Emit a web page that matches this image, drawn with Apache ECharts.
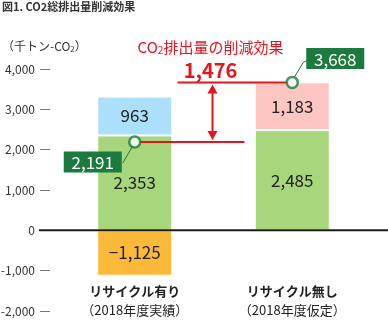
<!DOCTYPE html>
<html><head><meta charset="utf-8">
<script src="https://cdn.jsdelivr.net/npm/echarts@6/dist/echarts.min.js"></script>
<style>html,body{margin:0;padding:0;background:#fff}#c{width:388px;height:320px}</style>
</head><body><div id="c"></div>
<script>
const categories = ['リサイクル有り', 'リサイクル無し'];
const subCategories = ['（2018年度実績）', '（2018年度仮定）'];
const baseValues = [2353, 2485];
const recycleAdd = [963, null];
const noRecycleAdd = [null, 1183];
const recycleNeg = [-1125, null];
const totals = [2191, 3668];
const totalLabels = ['2,191', '3,668'];
const reductionLabel = '1,476';
const yMin = -2000, yMax = 4000, yStep = 1000;

const FONT = '"Noto Sans CJK JP", "Noto Sans", sans-serif';
const RED = '#e8141c';
const DKGREEN = '#1b7a3e';

function fmt(v) {
  const s = Math.abs(v).toLocaleString('en-US');
  return v < 0 ? '−' + s : s;
}

const chart = echarts.init(document.getElementById('c'), null, {renderer: 'canvas'});
const barLabel = {show: true, position: 'inside', color: '#222', fontSize: 17, fontFamily: FONT,
  formatter: p => fmt(p.value)};
const barItem = c => ({color: c, borderColor: '#fff', borderWidth: 1});

chart.setOption({
  animation: false,
  grid: {left: 56, right: 17, top: 69, bottom: 9, containLabel: false, outerBoundsMode: 'none'},
  xAxis: {
    type: 'category', data: categories, position: 'bottom',
    axisLine: {show: false, onZero: false}, axisTick: {show: false},
    axisLabel: {
      margin: -29, interval: 0,
      formatter: (v, i) => '{a|' + v + '}\n{b|' + subCategories[i] + '}',
      rich: {
        a: {fontSize: 13, fontWeight: 'bold', color: '#222', fontFamily: FONT, lineHeight: 19},
        b: {fontSize: 13, color: '#222', fontFamily: FONT, lineHeight: 19}
      }
    }
  },
  yAxis: {
    type: 'value', min: yMin, max: yMax, interval: yStep, offset: 6,
    splitLine: {show: false},
    axisLine: {show: false},
    axisTick: {show: true, length: 10, lineStyle: {color: '#777', width: 1}},
    axisLabel: {margin: 15, color: '#333', fontSize: 12, fontFamily: FONT,
      formatter: v => v.toLocaleString('en-US')}
  },
  series: [
    {type: 'bar', stack: 's', barWidth: 75, data: baseValues, itemStyle: barItem('#a8d67c'), label: barLabel},
    {type: 'bar', stack: 's', barWidth: 75, data: recycleAdd, itemStyle: barItem('#abdffa'), label: barLabel},
    {type: 'bar', stack: 's', barWidth: 75, data: noRecycleAdd, itemStyle: barItem('#fdc6c2'), label: barLabel},
    {type: 'bar', stack: 's', barWidth: 75, data: recycleNeg, itemStyle: barItem('#fbb93a'), label: barLabel},
    {type: 'scatter', z: 10, symbol: 'circle', symbolSize: 11,
      data: totals.map((v, i) => [i, v]),
      itemStyle: {color: '#fff', borderColor: DKGREEN, borderWidth: 2.5}}
  ]
});

const p0 = chart.convertToPixel({gridIndex: 0}, [0, totals[0]]);
const p1 = chart.convertToPixel({gridIndex: 0}, [1, totals[1]]);
const z0 = chart.convertToPixel({gridIndex: 0}, [0, 0]);
const ax = (p0[0] + p1[0]) / 2 - 1;
const lw = {stroke: RED, lineWidth: 2};
const g = [];
g.push({type: 'line', z: 5, shape: {x1: 39, y1: z0[1], x2: 388, y2: z0[1]}, style: {stroke: '#1a1a1a', lineWidth: 2}});
g.push({type: 'line', z: 5, shape: {x1: p0[0] + 5, y1: p0[1], x2: ax + 32, y2: p0[1]}, style: lw});
g.push({type: 'line', z: 5, shape: {x1: ax - 35, y1: p1[1], x2: p1[0] - 5, y2: p1[1]}, style: lw});
g.push({type: 'line', z: 5, shape: {x1: ax, y1: p1[1] + 8, x2: ax, y2: p0[1] - 8}, style: lw});
g.push({type: 'polygon', z: 5, shape: {points: [[ax, p1[1] + 2], [ax - 5, p1[1] + 11], [ax + 5, p1[1] + 11]]}, style: {fill: RED}});
g.push({type: 'polygon', z: 5, shape: {points: [[ax, p0[1] - 2], [ax - 5, p0[1] - 11], [ax + 5, p0[1] - 11]]}, style: {fill: RED}});
g.push({type: 'text', z: 6, x: ax - 2, y: p1[1] - 12, style: {text: reductionLabel, fill: RED, font: 'bold 20px ' + FONT, align: 'center', verticalAlign: 'middle'}});
g.push({type: 'text', z: 6, x: ax - 2, y: 47, style: {
  text: '{a|CO}{s|2}{a|排出量の削減効果}', align: 'center', verticalAlign: 'middle',
  rich: {a: {fontSize: 15, fill: RED, fontFamily: FONT}, s: {fontSize: 10, fill: RED, fontFamily: FONT, padding: [6, 0, 0, 0]}}
}});
function box(cx, cy, txt) {
  g.push({type: 'rect', z: 6, shape: {x: cx - 29, y: cy - 10.5, width: 58, height: 21}, style: {fill: DKGREEN}});
  g.push({type: 'text', z: 7, x: cx, y: cy + 1, style: {text: txt, fill: '#fff', font: '17px ' + FONT, align: 'center', verticalAlign: 'middle'}});
}
box(p0[0] - 42, p0[1] + 20, totalLabels[0]);
g.push({type: 'polyline', z: 5, shape: {points: [[p0[0] - 12, p0[1] + 21], [p0[0] - 2, p0[1] + 4]]}, style: {stroke: DKGREEN, lineWidth: 1, fill: null}});
box(p1[0] + 43, p1[1] - 24, totalLabels[1]);
g.push({type: 'polyline', z: 5, shape: {points: [[p1[0] + 2, p1[1] - 5], [p1[0] + 11, p1[1] - 20], [p1[0] + 15, p1[1] - 22]]}, style: {stroke: DKGREEN, lineWidth: 1, fill: null}});
g.push({type: 'text', left: 2, top: 1, style: {text: '図1. CO2総排出量削減効果', fill: '#333', font: 'bold 11px ' + FONT}});
g.push({type: 'text', x: 2, y: 46, style: {
  text: '{a|（千トン-CO}{s|2}{a|）}', verticalAlign: 'middle',
  rich: {a: {fontSize: 12, fill: '#333', fontFamily: FONT}, s: {fontSize: 8, fill: '#333', fontFamily: FONT, padding: [5, 0, 0, 0]}}
}});
chart.setOption({graphic: g});
</script></body></html>
